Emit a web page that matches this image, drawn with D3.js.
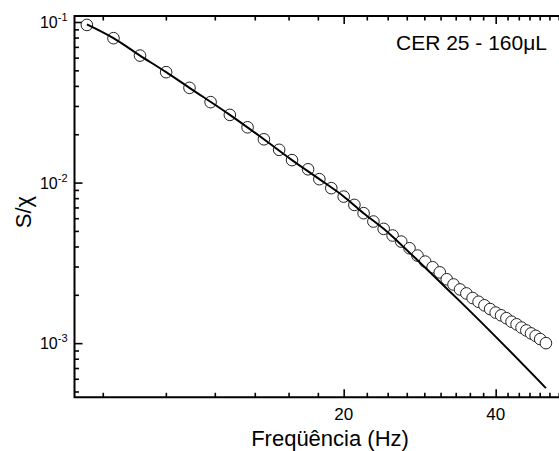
<!DOCTYPE html>
<html>
<head>
<meta charset="utf-8">
<script src="https://cdn.jsdelivr.net/npm/d3@7"></script>
<style>
  body { margin: 0; background: #fff; }
  text { font-family: Arial, "Liberation Sans", sans-serif; fill: #000; }
</style>
</head>
<body>
<svg id="chart" width="559" height="451"></svg>
<script>
// measured points (circles)
const freq = [6.2, 7, 7.9, 8.9, 9.9, 10.9, 11.9, 12.9, 13.9, 14.9, 15.8, 17, 17.9, 18.9, 20, 21, 21.9, 22.9, 24,
    25, 26, 27, 28, 29, 30, 31, 32, 33, 34, 35, 36, 37, 38, 39, 40, 41, 42, 43, 44, 45, 46, 47, 48, 49, 50.3];
const ratio = [0.0959, 0.0793, 0.0618, 0.0487, 0.0389, 0.0317, 0.0264, 0.0221, 0.0186, 0.0160, 0.0138, 0.0121,
    0.0105, 0.00923, 0.00818, 0.00726, 0.00645, 0.00572, 0.00515,
    0.00468, 0.00429, 0.00390, 0.00351, 0.00322, 0.00297, 0.00276, 0.00250, 0.00232, 0.00216, 0.00204,
    0.00191, 0.00181, 0.00172, 0.00163, 0.00155, 0.00149, 0.00143, 0.00136, 0.00131, 0.00125, 0.00120,
    0.00115, 0.00111, 0.00106, 0.00100];

// fitted curve (solid line)
const fitFreq = [6.2, 7, 7.9, 8.9, 9.9, 11.9, 13.9, 15.8, 17.9, 20, 21.9, 24, 25.9, 28.3, 31, 34, 40.8, 50.3];
const fitRatio = [0.0966, 0.0793, 0.0618, 0.0487, 0.0389, 0.0264, 0.0186, 0.0138, 0.0105, 0.0082, 0.00645,
    0.00515, 0.00415, 0.00318, 0.00241, 0.00182, 0.00103, 0.000525];

// axis ticks
const xMajor = [20, 40];
const xMinorStep = 20 / 9;
const yMajor = [1e-3, 1e-2, 1e-1];
const yExponents = ["-3", "-2", "-1"];

const svg = d3.select("#chart");

const x = d3.scaleLog().domain([5.86, 54]).range([74.5, 561.5]);
const y = d3.scaleLog().domain([4.6e-4, 0.109]).range([397.3, 16]);

const [x0, x1] = x.range();
const [yb, yt] = y.range();

const xMinor = d3.range(1, 30).filter(k => k % 9 !== 0).map(k => k * xMinorStep)
    .filter(v => v > x.domain()[0] && v < x.domain()[1]);
const yMinor = [];
[1e-4, 1e-3, 1e-2].forEach(d => d3.range(2, 10).forEach(m => {
    const v = m * d;
    if (v > y.domain()[0] && v < y.domain()[1]) yMinor.push(v);
}));

// ticks: inward, minor short and major long
function drawTicks(axis, translate, values, size) {
    const g = svg.append("g").attr("transform", translate)
        .call(axis.tickValues(values).tickSize(size).tickSizeOuter(0).tickFormat(""));
    g.select(".domain").remove();
    g.selectAll(".tick line").attr("stroke", "#000").attr("stroke-width", 1.6);
}
drawTicks(d3.axisBottom(x), `translate(0,${yb})`, xMinor, -4.5);
drawTicks(d3.axisBottom(x), `translate(0,${yb})`, xMajor, -8);
drawTicks(d3.axisTop(x), `translate(0,${yt})`, xMinor, -4.5);
drawTicks(d3.axisTop(x), `translate(0,${yt})`, xMajor, -8);
drawTicks(d3.axisLeft(y), `translate(${x0},0)`, yMinor, -4.5);
drawTicks(d3.axisLeft(y), `translate(${x0},0)`, yMajor, -8);

// frame (right edge falls outside the picture)
svg.append("path")
    .attr("d", `M${x1},${yt}H${x0}V${yb}H${x1}`)
    .attr("fill", "none")
    .attr("stroke", "#000")
    .attr("stroke-width", 2);

// x tick labels
svg.selectAll(".xlab").data(xMajor).enter().append("text")
    .attr("class", "xlab")
    .attr("x", d => x(d))
    .attr("y", yb + 23)
    .attr("text-anchor", "middle")
    .attr("font-size", 17)
    .text(d => d);

// y tick labels with superscript exponent
const ylab = svg.selectAll(".ylab").data(yMajor).enter().append("text")
    .attr("class", "ylab")
    .attr("x", x0 - 7)
    .attr("y", d => y(d) + 6)
    .attr("text-anchor", "end")
    .attr("font-size", 16);
ylab.append("tspan").text("10");
ylab.append("tspan").attr("dy", -7).attr("font-size", 11).text((d, i) => yExponents[i]);

// axis titles
svg.append("text")
    .attr("x", 330)
    .attr("y", 446)
    .attr("text-anchor", "middle")
    .attr("font-size", 22)
    .text("Freqüência (Hz)");

svg.append("text")
    .attr("transform", "translate(31,212) rotate(-90)")
    .attr("text-anchor", "middle")
    .attr("font-size", 22)
    .text("S/χ");

svg.append("text")
    .attr("x", 547)
    .attr("y", 50)
    .attr("text-anchor", "end")
    .attr("font-size", 21)
    .text("CER 25 - 160μL");

// data circles
svg.append("g").selectAll("circle")
    .data(freq.map((f, i) => ({ f: f, v: ratio[i] })))
    .enter()
    .append("circle")
    .attr("cx", d => x(d.f))
    .attr("cy", d => y(d.v))
    .attr("r", 5.8)
    .attr("fill", "#fff")
    .attr("stroke", "#222")
    .attr("stroke-width", 1);

// fitted curve on top
const line = d3.line()
    .x(d => x(d.f))
    .y(d => y(d.v))
    .curve(d3.curveMonotoneX);

svg.append("path")
    .datum(fitFreq.map((f, i) => ({ f: f, v: fitRatio[i] })))
    .attr("d", line)
    .attr("fill", "none")
    .attr("stroke", "#000")
    .attr("stroke-width", 2);
</script>
</body>
</html>
